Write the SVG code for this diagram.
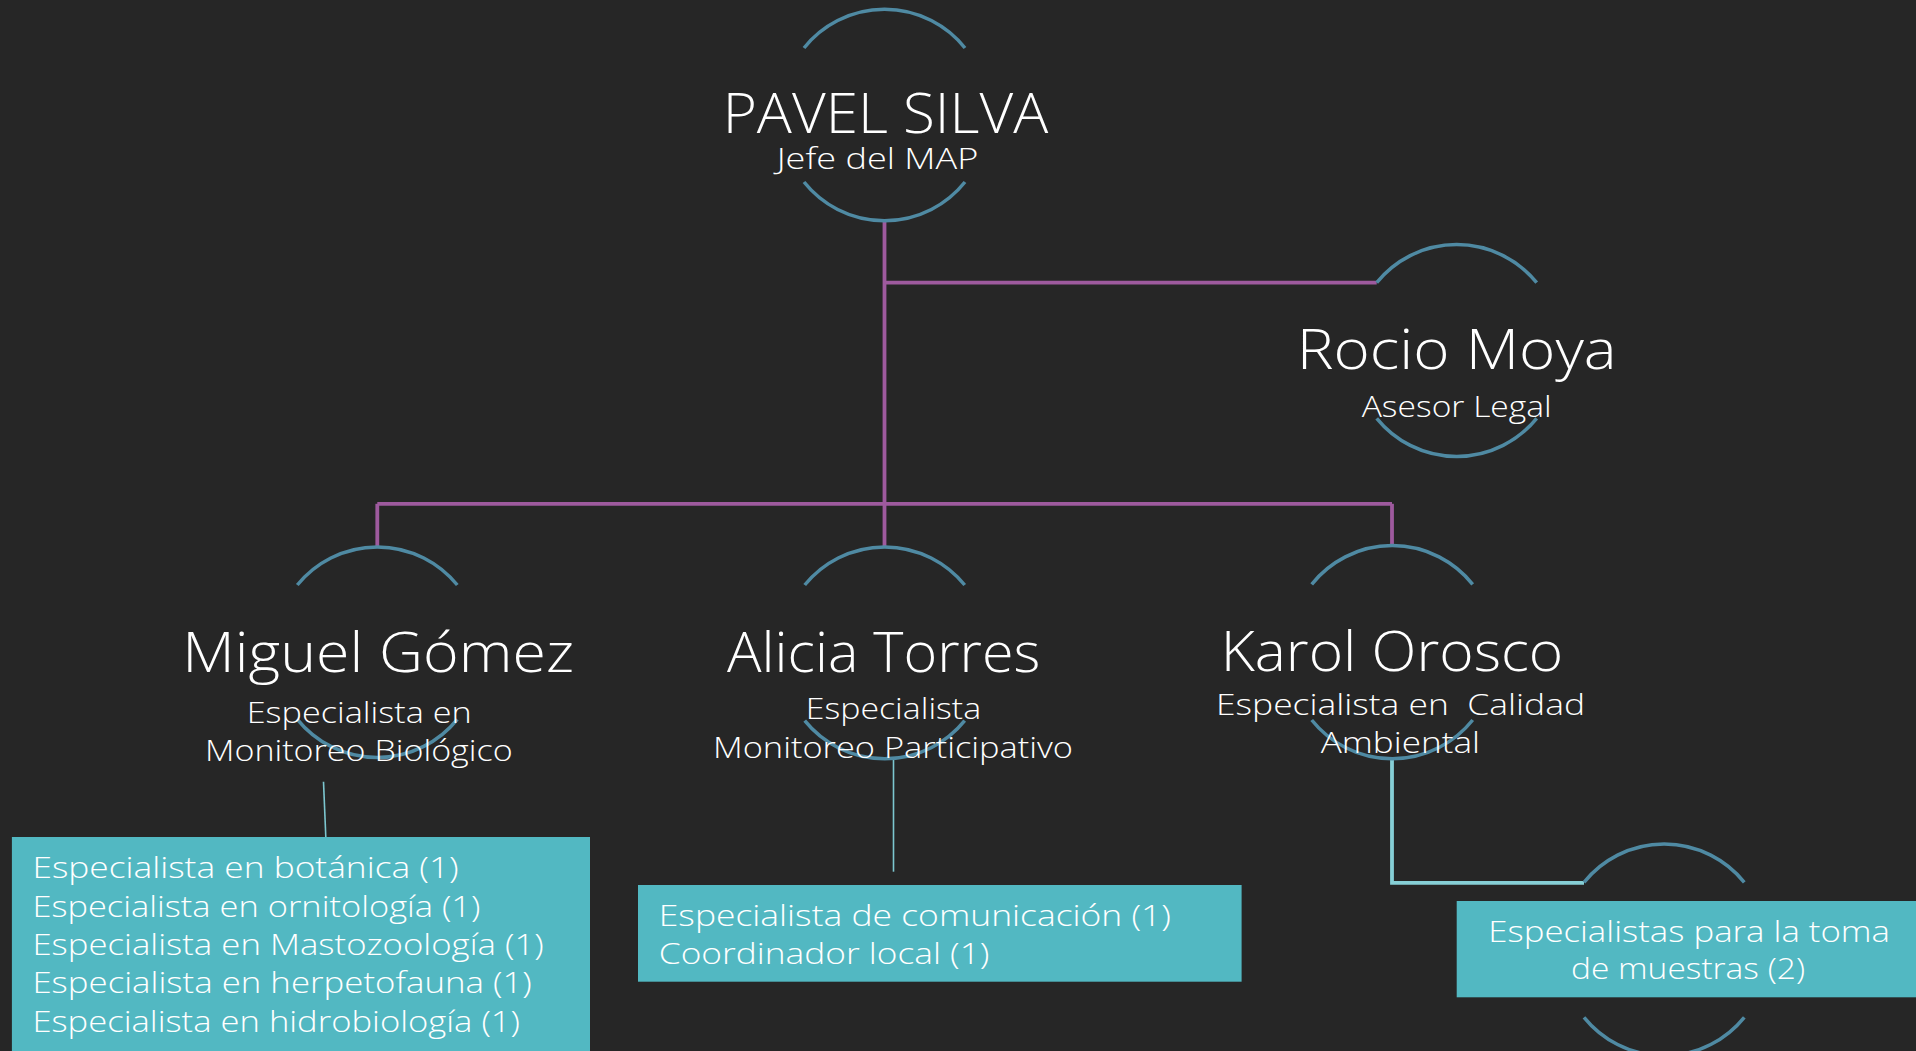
<svg xmlns="http://www.w3.org/2000/svg" width="1916" height="1051" viewBox="0 0 1916 1051">
<style>
.bg{fill:#262626}
.arc{fill:none;stroke:#4f8aa3;stroke-width:3.5;stroke-linecap:butt}
.pur{fill:none;stroke:#9e5a9e;stroke-width:3.8}
.thin{fill:none;stroke:#7cc6cf;stroke-width:1.6}
.thick{fill:none;stroke:#86cfd6;stroke-width:3.8}
.box{fill:#52b8c2}
text{font-family:"Open Sans","Lato","DejaVu Sans",sans-serif;font-weight:300;fill:#ffffff}
.name{font-size:55px}
.sub{font-size:30px}
.lst{font-size:30px}
</style>
<rect class="bg" x="0" y="0" width="1916" height="1051"/>
<g id="connectors">
<path class="pur" d="M884.5,220 V547"/>
<path class="pur" d="M884.5,282.7 H1376.7"/>
<path class="pur" d="M377.3,503.8 H1392"/>
<path class="pur" d="M377.3,503.8 V547"/>
<path class="pur" d="M1392,503.8 V546.5"/>
<path class="thin" d="M323.5,781.7 L325.8,837"/>
<path class="thin" d="M893.5,760 V871.7"/>
<path class="thick" d="M1392,758 V882.8 H1584"/>
</g>
<g id="pavel">
<path class="arc" d="M804,48 A103,103 0 0 1 965,48"/>
<path class="arc" d="M804,182 A103,103 0 0 0 965,182"/>
<text class="name" x="722.7" y="133.3" textLength="325.6" lengthAdjust="spacingAndGlyphs">PAVEL SILVA</text>
<text class="sub" x="776.7" y="169.3" textLength="201.6" lengthAdjust="spacingAndGlyphs">Jefe del MAP</text>
</g>
<g id="rocio">
<path class="arc" d="M1376.7,282.7 A103,103 0 0 1 1536.7,282.7"/>
<path class="arc" d="M1376.7,418.3 A103,103 0 0 0 1536.7,418.3"/>
<text class="name" x="1296.7" y="369.3" textLength="320" lengthAdjust="spacingAndGlyphs">Rocio Moya</text>
<text class="sub" x="1361.7" y="417.3" textLength="190" lengthAdjust="spacingAndGlyphs">Asesor Legal</text>
</g>
<g id="miguel">
<path class="arc" d="M297.3,585 A103,103 0 0 1 457.3,585"/>
<path class="arc" d="M297.3,719.3 A103,103 0 0 0 457.3,719.3"/>
<text class="name" x="182.3" y="671.7" textLength="391.7" lengthAdjust="spacingAndGlyphs">Miguel Gómez</text>
<text class="sub" x="246.7" y="722.7" textLength="225" lengthAdjust="spacingAndGlyphs">Especialista en</text>
<text class="sub" x="205" y="761" textLength="307.7" lengthAdjust="spacingAndGlyphs">Monitoreo Biológico</text>
</g>
<g id="alicia">
<path class="arc" d="M804.7,585 A103,103 0 0 1 964.7,585"/>
<path class="arc" d="M804.7,720.7 A103,103 0 0 0 964.7,720.7"/>
<text class="name" x="727" y="671.7" textLength="313.4" lengthAdjust="spacingAndGlyphs">Alicia Torres</text>
<text class="sub" x="805.7" y="719.3" textLength="175.5" lengthAdjust="spacingAndGlyphs">Especialista</text>
<text class="sub" x="713" y="757.7" textLength="360" lengthAdjust="spacingAndGlyphs">Monitoreo Participativo</text>
</g>
<g id="karol">
<path class="arc" d="M1311.7,584.3 A103,103 0 0 1 1472.7,584.3"/>
<path class="arc" d="M1311.7,720 A103,103 0 0 0 1472.7,720"/>
<text class="name" x="1220.7" y="670.7" textLength="342.6" lengthAdjust="spacingAndGlyphs">Karol Orosco</text>
<text class="sub" x="1216" y="715" textLength="369" lengthAdjust="spacingAndGlyphs" xml:space="preserve">Especialista en  Calidad</text>
<text class="sub" x="1320.7" y="752.7" textLength="159.3" lengthAdjust="spacingAndGlyphs">Ambiental</text>
</g>
<g id="muestras">
<path class="arc" d="M1584,882.3 A103,103 0 0 1 1744.3,882.3"/>
<rect class="box" x="1456.7" y="901" width="460" height="96.3"/>
<path class="arc" d="M1584,1017.3 A103,103 0 0 0 1744.3,1017.3"/>
<text class="lst" x="1488.3" y="941.7" textLength="401.7" lengthAdjust="spacingAndGlyphs">Especialistas para la toma</text>
<text class="lst" x="1571" y="979.3" textLength="234" lengthAdjust="spacingAndGlyphs">de muestras (2)</text>
</g>
<g id="biologico">
<rect class="box" x="11.9" y="837" width="578.1" height="214"/>
<text class="lst" x="32.4" y="878.3" textLength="426.3" lengthAdjust="spacingAndGlyphs">Especialista en botánica (1)</text>
<text class="lst" x="32.4" y="916.7" textLength="448" lengthAdjust="spacingAndGlyphs">Especialista en ornitología (1)</text>
<text class="lst" x="32.4" y="955" textLength="511.3" lengthAdjust="spacingAndGlyphs">Especialista en Mastozoología (1)</text>
<text class="lst" x="32.4" y="993.3" textLength="499.4" lengthAdjust="spacingAndGlyphs">Especialista en herpetofauna (1)</text>
<text class="lst" x="32.4" y="1031.7" textLength="487.6" lengthAdjust="spacingAndGlyphs">Especialista en hidrobiología (1)</text>
</g>
<g id="participativo">
<rect class="box" x="638" y="885" width="603.6" height="96.7"/>
<text class="lst" x="658.8" y="926" textLength="512.2" lengthAdjust="spacingAndGlyphs">Especialista de comunicación (1)</text>
<text class="lst" x="658.8" y="964.3" textLength="330.6" lengthAdjust="spacingAndGlyphs">Coordinador local (1)</text>
</g>
</svg>
